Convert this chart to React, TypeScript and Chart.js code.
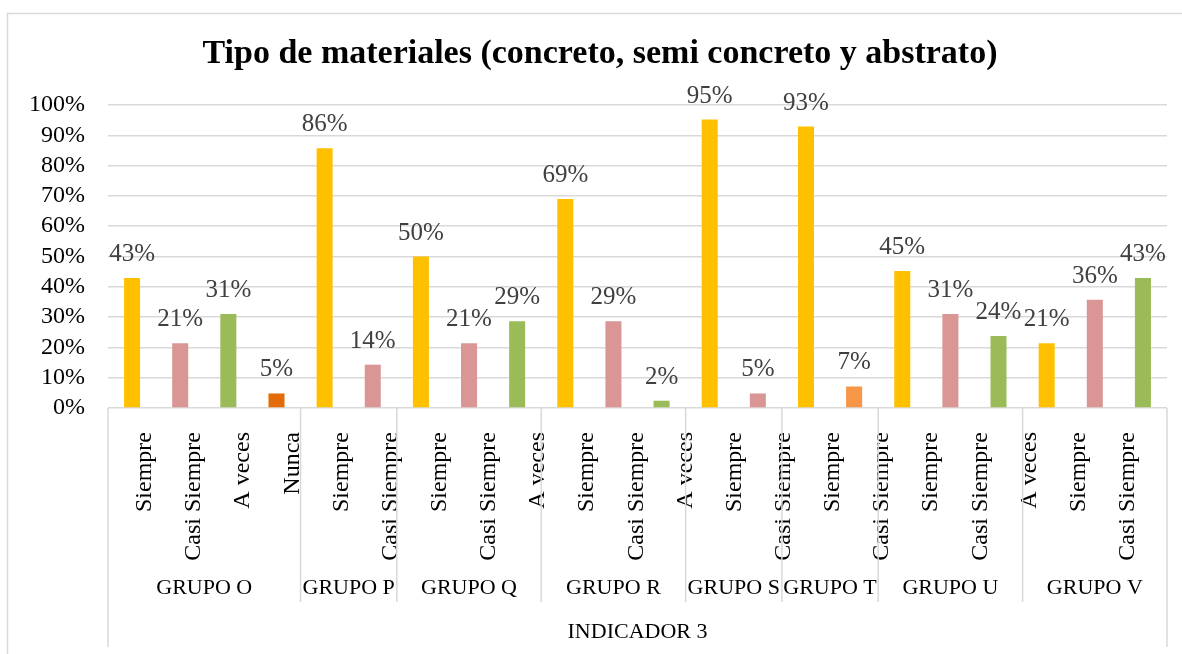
import React, { useEffect, useRef } from "react";
import { Chart, registerables } from "chart.js";

Chart.register(...registerables);

// ---- data ----
const chartTitle = "Tipo de materiales (concreto, semi concreto y abstrato)";
const axisTitle = "INDICADOR 3";
const groupNames = ["GRUPO O", "GRUPO P", "GRUPO Q", "GRUPO R", "GRUPO S", "GRUPO T", "GRUPO U", "GRUPO V"];
const groupSizes = [4, 2, 3, 3, 2, 2, 3, 3];
const categories = [
  "O-Siempre", "O-Casi Siempre", "O-A veces", "O-Nunca",
  "P-Siempre", "P-Casi Siempre",
  "Q-Siempre", "Q-Casi Siempre", "Q-A veces",
  "R-Siempre", "R-Casi Siempre", "R-A veces",
  "S-Siempre", "S-Casi Siempre",
  "T-Siempre", "T-Casi Siempre",
  "U-Siempre", "U-Casi Siempre", "U-A veces",
  "V-A veces", "V-Siempre", "V-Casi Siempre",
];
const values = [
  42.9, 21.4, 31.0, 4.8,
  85.7, 14.3,
  50.0, 21.4, 28.6,
  69.0, 28.6, 2.4,
  95.2, 4.8,
  92.9, 7.1,
  45.2, 31.0, 23.8,
  21.4, 35.7, 42.9,
];
// labels as printed under the axis
const axisLabels = [
  "Siempre", "Casi Siempre", "A veces", "Nunca", "Siempre", "Casi Siempre",
  "Siempre", "Casi Siempre", "A veces", "Siempre", "Casi Siempre", "A veces",
  "Siempre", "Casi Siempre", "Siempre", "Casi Siempre", "Siempre", "Casi Siempre",
  "A veces", "Siempre", "Casi Siempre",
];
const yTickValues = [0, 10, 20, 30, 40, 50, 60, 70, 80, 90, 100];

// ---- styles ----
const YELLOW = "#FFC000";
const PINK = "#D99694";
const GREEN = "#9BBB59";
const DARK_ORANGE = "#E36C09";
const LIGHT_ORANGE = "#F79646";
const barColors = [
  YELLOW, PINK, GREEN, DARK_ORANGE,
  YELLOW, PINK,
  YELLOW, PINK, GREEN,
  YELLOW, PINK, GREEN,
  YELLOW, PINK,
  YELLOW, LIGHT_ORANGE,
  YELLOW, PINK, GREEN,
  YELLOW, PINK, GREEN,
];
const SERIF = "'Liberation Serif', 'DejaVu Serif', serif";
const GRID = "#d9d9d9";

const decorPlugin = {
  id: "excelDecor",
  beforeDraw(chart: any) {
    const { ctx, width, height } = chart;
    ctx.save();
    ctx.fillStyle = "#ffffff";
    ctx.fillRect(0, 0, width, height);
    ctx.restore();
  },
  afterDraw(chart: any) {
    const { ctx, chartArea: ca } = chart;
    const xs = chart.scales.x;
    ctx.save();

    // outer frame (top + left)
    ctx.strokeStyle = GRID;
    ctx.lineWidth = 1.5;
    ctx.beginPath();
    ctx.moveTo(7.5, chart.height);
    ctx.lineTo(7.5, 13.5);
    ctx.lineTo(chart.width, 13.5);
    ctx.stroke();

    // title
    ctx.fillStyle = "#000000";
    ctx.font = `bold 34px ${SERIF}`;
    ctx.textAlign = "center";
    ctx.textBaseline = "alphabetic";
    ctx.fillText(chartTitle, 600, 63);

    // data labels
    ctx.font = `25px ${SERIF}`;
    ctx.fillStyle = "#404040";
    const meta = chart.getDatasetMeta(0);
    meta.data.forEach((bar: any, i: number) => {
      ctx.fillText(Math.round(values[i]) + "%", bar.x, bar.y - 17);
    });

    // rotated category labels
    const step = (ca.right - ca.left) / 21.55;
    ctx.font = `24px ${SERIF}`;
    ctx.fillStyle = "#000000";
    axisLabels.forEach((t, i) => {
      ctx.save();
      ctx.translate(ca.left + (i + 0.75) * step, ca.bottom + 24);
      ctx.rotate(-Math.PI / 2);
      ctx.textAlign = "right";
      ctx.textBaseline = "middle";
      ctx.fillText(t, 0, 0);
      ctx.restore();
    });

    // group separators and labels
    const cw = xs.getPixelForValue(1) - xs.getPixelForValue(0);
    let start = 0;
    ctx.strokeStyle = GRID;
    ctx.lineWidth = 1.5;
    ctx.font = `22px ${SERIF}`;
    ctx.textAlign = "center";
    ctx.textBaseline = "middle";
    groupNames.forEach((g, gi) => {
      const end = start + groupSizes[gi];
      const left = xs.getPixelForValue(start) - cw / 2;
      const right = xs.getPixelForValue(end - 1) + cw / 2;
      ctx.beginPath();
      ctx.moveTo(left, ca.bottom);
      ctx.lineTo(left, gi === 0 ? 647 : 602);
      ctx.stroke();
      if (gi === groupNames.length - 1) {
        ctx.beginPath();
        ctx.moveTo(right, ca.bottom);
        ctx.lineTo(right, 647);
        ctx.stroke();
      }
      ctx.fillText(g, (left + right) / 2, 588);
      start = end;
    });

    // axis title
    ctx.fillText(axisTitle, (ca.left + ca.right) / 2, 632);

    ctx.restore();
  },
};

export default function App() {
  const ref = useRef<HTMLCanvasElement | null>(null);

  useEffect(() => {
    document.body.style.margin = "0";
    const canvas = ref.current;
    if (!canvas) return;
    const chart = new Chart(canvas, {
      type: "bar",
      data: {
        labels: categories,
        datasets: [
          {
            data: values,
            backgroundColor: barColors,
            borderWidth: 0,
            categoryPercentage: 1,
            barPercentage: 0.333,
          },
        ],
      },
      options: {
        animation: false,
        responsive: false,
        devicePixelRatio: 1,
        layout: { padding: { left: 0, right: 15, top: 105, bottom: 246 } },
        plugins: {
          legend: { display: false },
          title: { display: false },
          tooltip: { enabled: false },
        },
        scales: {
          x: {
            display: false,
          },
          y: {
            min: 0,
            max: 100,
            afterFit: (scale: any) => {
              scale.width = 108;
            },
            afterBuildTicks: (scale: any) => {
              scale.ticks = yTickValues.map((v) => ({ value: v }));
            },
            ticks: {
              autoSkip: false,
              stepSize: 10,
              padding: 23,
              color: "#000000",
              font: { family: SERIF, size: 24, lineHeight: 1 },
              callback: (v: any) => v + "%",
            },
            grid: {
              color: GRID,
              lineWidth: 1.5,
              drawTicks: false,
            },
            border: { display: false },
          },
        },
      },
      plugins: [decorPlugin],
    });
    return () => chart.destroy();
  }, []);

  return (
    <div style={{ width: 1182, height: 654 }}>
      <canvas ref={ref} width={1182} height={654} style={{ display: "block" }} />
    </div>
  );
}
